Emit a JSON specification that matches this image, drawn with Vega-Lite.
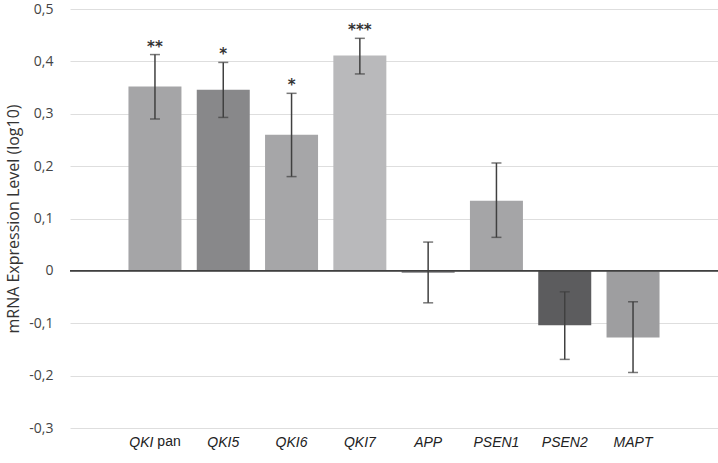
{
  "$schema": "https://vega.github.io/schema/vega-lite/v6.json",
  "width": 648,
  "height": 419,
  "autosize": {"type": "none"},
  "padding": {"left": 70, "top": 9, "right": 0, "bottom": 35},
  "background": "white",
  "config": {"view": {"stroke": null}},
  "data": {
    "values": [
      {"gene": "QKI pan", "value": 0.352, "low": 0.290, "high": 0.413, "sig": "**"},
      {"gene": "QKI5", "value": 0.346, "low": 0.293, "high": 0.398, "sig": "*"},
      {"gene": "QKI6", "value": 0.260, "low": 0.180, "high": 0.339, "sig": "*"},
      {"gene": "QKI7", "value": 0.411, "low": 0.376, "high": 0.444, "sig": "***"},
      {"gene": "APP", "value": -0.004, "low": -0.061, "high": 0.055, "sig": ""},
      {"gene": "PSEN1", "value": 0.134, "low": 0.064, "high": 0.206, "sig": ""},
      {"gene": "PSEN2", "value": -0.104, "low": -0.169, "high": -0.040, "sig": ""},
      {"gene": "MAPT", "value": -0.127, "low": -0.194, "high": -0.059, "sig": ""}
    ]
  },
  "encoding": {
    "x": {
      "field": "gene",
      "type": "nominal",
      "sort": null,
      "scale": {"paddingInner": 0.224, "paddingOuter": 0.856},
      "axis": {
        "title": null,
        "domain": false,
        "ticks": false,
        "labelAngle": 0,
        "labelFont": "Liberation Sans",
        "labelFontSize": 14,
        "labelFontStyle": "italic",
        "labelColor": "#222222",
        "labelPadding": 7,
        "labelExpr": "datum.value == 'QKI pan' ? 'QKI' : datum.value",
        "labelAlign": {"condition": {"test": "datum.value == 'QKI pan'", "value": "right"}, "value": "center"},
        "labelOffset": {"condition": {"test": "datum.value == 'QKI pan'", "value": -1.5}, "value": 0}
      }
    }
  },
  "layer": [
    {
      "mark": {"type": "bar"},
      "encoding": {
        "y": {
          "field": "value",
          "type": "quantitative",
          "scale": {"domain": [-0.3, 0.5], "nice": false, "zero": false},
          "axis": {
            "title": "mRNA Expression Level (log10)",
            "titleFont": "Open Sans",
            "titleFontSize": 16,
            "titleFontWeight": "normal",
            "titleColor": "#333333",
            "titlePadding": 7,
            "values": [-0.3, -0.2, -0.1, 0, 0.1, 0.2, 0.3, 0.4, 0.5],
            "labelExpr": "(datum.value < -0.0001 ? '-' : '') + (abs(datum.value) < 0.0001 ? '0' : replace(format(abs(datum.value), '.1f'), '.', ','))",
            "labelFont": "Open Sans",
            "labelFontSize": 14,
            "labelColor": "#444444",
            "labelPadding": 17,
            "domain": false,
            "ticks": false,
            "grid": true,
            "gridColor": "#dedede",
            "gridWidth": 1
          }
        },
        "color": {
          "field": "gene",
          "type": "nominal",
          "legend": null,
          "scale": {
            "domain": ["QKI pan", "QKI5", "QKI6", "QKI7", "APP", "PSEN1", "PSEN2", "MAPT"],
            "range": ["#a5a5a7", "#88888a", "#a6a6a8", "#b9b9bb", "#9d9d9f", "#a5a5a7", "#5c5c5e", "#9e9ea0"]
          }
        }
      }
    },
    {
      "data": {"values": [{"z": 0}]},
      "mark": {"type": "rule", "color": "#404040", "strokeWidth": 1.6},
      "encoding": {"x": null, "y": {"field": "z", "type": "quantitative"}}
    },
    {
      "mark": {"type": "rule", "color": "#404040", "strokeWidth": 1.5},
      "encoding": {
        "y": {"field": "low", "type": "quantitative"},
        "y2": {"field": "high"}
      }
    },
    {
      "mark": {"type": "tick", "color": "#404040", "size": 10, "thickness": 1.5},
      "encoding": {"y": {"field": "low", "type": "quantitative"}}
    },
    {
      "mark": {"type": "tick", "color": "#404040", "size": 10, "thickness": 1.5},
      "encoding": {"y": {"field": "high", "type": "quantitative"}}
    },
    {
      "mark": {"type": "text", "font": "DejaVu Sans", "fontSize": 15, "fontWeight": "bold", "color": "#333333", "baseline": "alphabetic", "dy": -3},
      "encoding": {
        "y": {"field": "high", "type": "quantitative"},
        "text": {"field": "sig"}
      }
    },
    {
      "data": {"values": [{"gene": "QKI pan", "part": "pan", "pos": -0.3}]},
      "mark": {"type": "text", "font": "Liberation Sans", "fontSize": 14, "color": "#222222", "align": "left", "baseline": "top", "dx": 2.4, "dy": 7},
      "encoding": {
        "y": {"field": "pos", "type": "quantitative"},
        "text": {"field": "part"}
      }
    }
  ]
}
